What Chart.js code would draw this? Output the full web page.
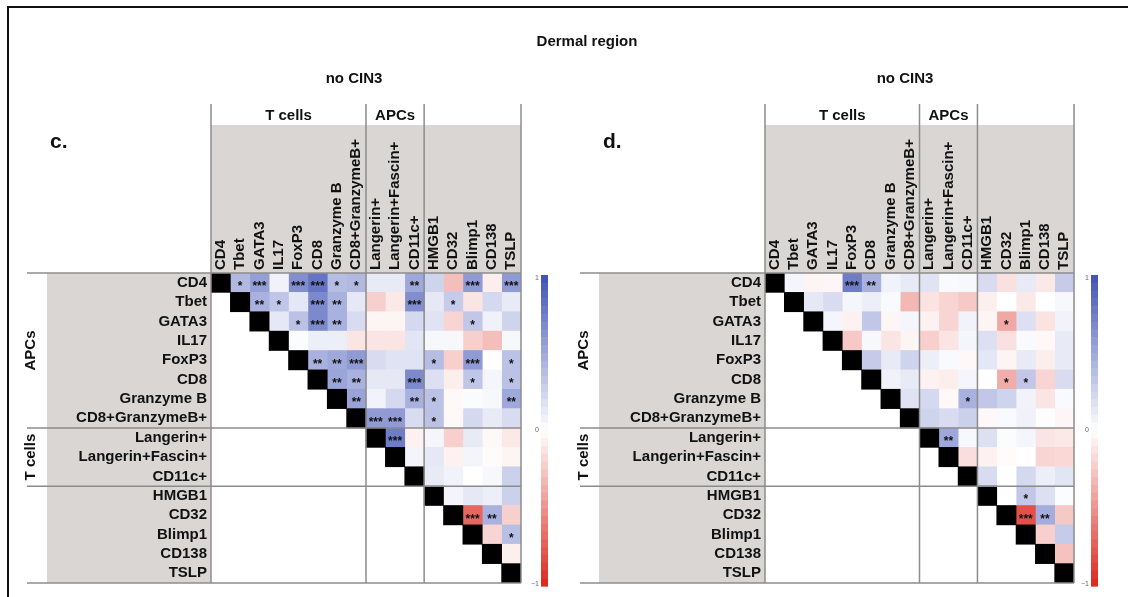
<!DOCTYPE html>
<html>
<head>
<meta charset="utf-8">
<script src="https://cdn.jsdelivr.net/npm/chart.js@4.4.1/dist/chart.umd.min.js"></script>
<style>
  body { margin: 0; background: #fff; font-family: "Liberation Sans", Arial, sans-serif; }
  #page { position: relative; width: 1128px; height: 597px; overflow: hidden; background: #fff; }
  .frame { position: absolute; left: 7px; top: 6px; width: 1300px; height: 800px;
           border-top: 2px solid #111; border-left: 2px solid #111; }
  .panel { position: absolute; top: 0; width: 564px; height: 597px; }
  .t { position: absolute; font-weight: bold; color: #111; white-space: nowrap;
       transform: translate(-50%, -50%); z-index: 2; }
  .tag { position: absolute; font-weight: bold; color: #111; font-size: 21px; z-index: 2; }
</style>
</head>
<body>
<div id="page">
  <div class="frame"></div>
  <div class="panel" style="left:0"><canvas id="chartC" width="564" height="597"></canvas></div>
  <div class="panel" style="left:554px"><canvas id="chartD" width="564" height="597"></canvas></div>
  <div class="t" style="left:587px;top:40px;font-size:15px">Dermal region</div>
  <div class="t" style="left:354px;top:77px;font-size:15px">no CIN3</div>
  <div class="t" style="left:905px;top:77px;font-size:15px">no CIN3</div>
  <div class="tag" style="left:50px;top:129px">c.</div>
  <div class="tag" style="left:603px;top:129px">d.</div>
</div>
<script>
const markers = ['CD4', 'Tbet', 'GATA3', 'IL17', 'FoxP3', 'CD8', 'Granzyme B', 'CD8+GranzymeB+',
  'Langerin+', 'Langerin+Fascin+', 'CD11c+', 'HMGB1', 'CD32', 'Blimp1', 'CD138', 'TSLP'];
const groupEdges = [0, 8, 11, 16];
const colGroups = ['T cells', 'APCs', ''];
const rowGroups = ['APCs', 'T cells', ''];

// upper triangle only: row i holds the correlations with columns i+1 .. 15
const corrC = [
  [0.40, 0.55, 0.08, 0.65, 0.80, 0.38, 0.40, 0.12, 0.12, 0.50, 0.25, -0.30, 0.58, -0.08, 0.58],
  [0.45, 0.33, 0.14, 0.68, 0.45, 0.13, -0.22, -0.10, 0.65, 0.13, 0.30, -0.12, 0.22, 0.12],
  [0.13, 0.35, 0.68, 0.45, 0.20, -0.05, -0.05, 0.22, 0.16, -0.20, 0.32, 0.08, 0.25],
  [0.02, 0.10, 0.10, -0.12, -0.12, -0.12, 0.15, 0.04, 0.04, -0.22, -0.30, 0.04],
  [0.45, 0.50, 0.58, 0.20, 0.16, 0.16, 0.38, -0.22, 0.58, 0.00, 0.35],
  [0.52, 0.45, 0.13, 0.13, 0.68, 0.18, -0.08, 0.33, 0.05, 0.35],
  [0.53, 0.07, 0.22, 0.45, 0.35, -0.03, 0.02, 0.04, 0.50],
  [0.58, 0.58, 0.20, 0.35, -0.03, 0.22, 0.12, 0.20],
  [0.75, -0.06, 0.05, -0.22, 0.12, -0.03, -0.10],
  [0.06, 0.13, -0.06, 0.06, -0.02, -0.05],
  [0.12, 0.07, 0.00, 0.04, 0.27],
  [0.06, 0.13, 0.10, 0.27],
  [-0.70, 0.45, -0.22],
  [-0.20, 0.37],
  [-0.07],
  []
];
// number of stars per cell, same layout as corrC
const sigC = [
  [1, 3, 0, 3, 3, 1, 1, 0, 0, 2, 0, 0, 3, 0, 3],
  [2, 1, 0, 3, 2, 0, 0, 0, 3, 0, 1, 0, 0, 0],
  [0, 1, 3, 2, 0, 0, 0, 0, 0, 0, 1, 0, 0],
  [0, 0, 0, 0, 0, 0, 0, 0, 0, 0, 0, 0],
  [2, 2, 3, 0, 0, 0, 1, 0, 3, 0, 1],
  [2, 2, 0, 0, 3, 0, 0, 1, 0, 1],
  [2, 0, 0, 2, 1, 0, 0, 0, 2],
  [3, 3, 0, 1, 0, 0, 0, 0],
  [3, 0, 0, 0, 0, 0, 0],
  [0, 0, 0, 0, 0, 0],
  [0, 0, 0, 0, 0],
  [0, 0, 0, 0],
  [3, 2, 0],
  [0, 1],
  [0],
  []
];

const corrD = [
  [0.05, -0.05, -0.04, 0.75, 0.45, 0.07, 0.12, 0.16, 0.03, 0.04, 0.20, -0.14, 0.12, -0.10, 0.30],
  [0.13, 0.20, 0.05, 0.10, 0.03, -0.33, -0.13, -0.20, -0.25, -0.07, 0.00, -0.10, 0.00, 0.04],
  [0.05, -0.06, 0.32, -0.04, 0.05, -0.06, -0.20, 0.07, -0.05, -0.40, 0.18, -0.13, 0.07],
  [-0.25, 0.04, -0.12, -0.05, -0.22, -0.12, 0.05, 0.18, -0.14, 0.03, -0.03, 0.12],
  [0.30, 0.12, 0.25, 0.10, 0.03, -0.03, 0.14, -0.05, 0.12, -0.08, 0.12],
  [0.08, 0.12, -0.06, -0.08, 0.05, 0.00, -0.38, 0.32, -0.20, 0.20],
  [0.16, 0.22, -0.03, 0.45, 0.32, 0.25, 0.07, -0.12, 0.03],
  [0.25, 0.20, 0.27, -0.03, 0.03, 0.08, 0.01, -0.04],
  [0.50, 0.04, 0.18, 0.02, 0.05, -0.12, -0.10],
  [-0.15, -0.06, -0.02, 0.00, -0.20, -0.18],
  [0.20, 0.00, 0.22, 0.10, 0.15],
  [0.00, 0.32, 0.18, 0.02],
  [-0.80, 0.47, -0.25],
  [-0.22, 0.30],
  [-0.28],
  []
];
const sigD = [
  [0, 0, 0, 3, 2, 0, 0, 0, 0, 0, 0, 0, 0, 0, 0],
  [0, 0, 0, 0, 0, 0, 0, 0, 0, 0, 0, 0, 0, 0],
  [0, 0, 0, 0, 0, 0, 0, 0, 0, 1, 0, 0, 0],
  [0, 0, 0, 0, 0, 0, 0, 0, 0, 0, 0, 0],
  [0, 0, 0, 0, 0, 0, 0, 0, 0, 0, 0],
  [0, 0, 0, 0, 0, 0, 1, 1, 0, 0],
  [0, 0, 0, 1, 0, 0, 0, 0, 0],
  [0, 0, 0, 0, 0, 0, 0, 0],
  [2, 0, 0, 0, 0, 0, 0],
  [0, 0, 0, 0, 0, 0],
  [0, 0, 0, 0, 0],
  [0, 1, 0, 0],
  [3, 2, 0],
  [0, 0],
  [0],
  []
];

const blueEnd = [63, 81, 181];
const redEnd = [219, 38, 28];

function colorFor(v) {
  const end = v >= 0 ? blueEnd : redEnd;
  const a = Math.min(1, Math.abs(v));
  const c = end.map(e => Math.round(255 + (e - 255) * a));
  return `rgb(${c[0]},${c[1]},${c[2]})`;
}

const cell = (tri, i, j) => tri[i][j - i - 1];

const decor = {
  id: 'decor',
  beforeDraw(chart, args, o) {
    const { ctx } = chart;
    const xs = chart.scales.x, ys = chart.scales.y;
    ctx.save();
    ctx.fillStyle = '#d9d6d4';
    ctx.fillRect(xs.left, o.headTop, xs.right - xs.left, ys.top - o.headTop);
    ctx.fillRect(o.labelLeft, ys.top, xs.left - o.labelLeft, ys.bottom - ys.top);
    ctx.restore();
  },
  afterDatasetsDraw(chart, args, o) {
    const { ctx } = chart;
    const xs = chart.scales.x, ys = chart.scales.y;
    ctx.save();
    ctx.fillStyle = '#111';
    ctx.font = 'bold 12px "Liberation Sans", Arial, sans-serif';
    ctx.textAlign = 'center';
    ctx.textBaseline = 'middle';
    o.sig.forEach((row, i) => {
      row.forEach((n, k) => {
        if (!n) return;
        const j = i + 1 + k;
        ctx.fillText('*'.repeat(n), xs.getPixelForValue(j + 0.5), ys.getPixelForValue(i) + 4);
      });
    });
    ctx.restore();
  },
  afterDraw(chart, args, o) {
    const { ctx } = chart;
    const xs = chart.scales.x, ys = chart.scales.y;
    const rowEdge = k => ys.getPixelForValue(k - 0.5);
    ctx.save();
    ctx.strokeStyle = '#8c8c8c';
    ctx.lineWidth = 1.5;
    groupEdges.forEach(k => {
      const x = xs.getPixelForValue(k);
      ctx.beginPath(); ctx.moveTo(x, o.lineTop); ctx.lineTo(x, ys.bottom); ctx.stroke();
      const y = rowEdge(k);
      ctx.beginPath(); ctx.moveTo(o.lineLeft, y); ctx.lineTo(xs.right, y); ctx.stroke();
    });
    // group headers
    ctx.fillStyle = '#111';
    ctx.font = 'bold 15px "Liberation Sans", Arial, sans-serif';
    ctx.textAlign = 'center';
    ctx.textBaseline = 'middle';
    for (let g = 0; g < colGroups.length; g++) {
      const a = groupEdges[g], b = groupEdges[g + 1];
      if (colGroups[g]) ctx.fillText(colGroups[g], xs.getPixelForValue((a + b) / 2), o.headTextY);
      if (rowGroups[g]) {
        ctx.save();
        ctx.translate(o.rowGroupX, (rowEdge(a) + rowEdge(b)) / 2);
        ctx.rotate(-Math.PI / 2);
        ctx.fillText(rowGroups[g], 0, 0);
        ctx.restore();
      }
    }
    // colour key
    const bx = xs.right + o.barGap, bw = 7;
    const top = ys.top + 2, bot = ys.bottom + 3;
    const steps = 40, h = (bot - top) / steps;
    for (let s = 0; s < steps; s++) {
      const v = 1 - (s + 0.5) * 2 / steps;
      ctx.fillStyle = colorFor(v);
      ctx.fillRect(bx, top + s * h, bw, h + 0.6);
    }
    ctx.fillStyle = '#666';
    ctx.font = '7px "Liberation Sans", Arial, sans-serif';
    ctx.textAlign = 'right';
    ctx.fillText('1', bx - 2, top + 3);
    ctx.fillText('0', bx - 2, (top + bot) / 2);
    ctx.fillText('\u22121', bx - 2, bot - 2);
    ctx.restore();
  }
};

function makeChart(id, tri, sig, g) {
  const datasets = markers.map((m, j) => ({
    label: m,
    data: markers.map((r, i) => (j >= i ? [j, j + 1] : null)),
    backgroundColor: markers.map((r, i) => (j === i ? '#000' : j > i ? colorFor(cell(tri, i, j)) : 'rgba(0,0,0,0)')),
    borderWidth: 0,
    grouped: false,
    barPercentage: 1,
    categoryPercentage: 1
  }));
  const font = { family: '"Liberation Sans", Arial, sans-serif', size: 15, weight: 'bold' };
  return new Chart(document.getElementById(id), {
    type: 'bar',
    data: { labels: markers, datasets },
    options: {
      indexAxis: 'y',
      responsive: false,
      animation: false,
      layout: { padding: { left: 0, top: 0, right: 564 - g.gridRight, bottom: 597 - g.gridBottom } },
      plugins: {
        legend: { display: false },
        tooltip: { enabled: false },
        decor: { sig, headTop: 125, lineTop: 104, headTextY: 116, labelLeft: g.labelLeft,
                 lineLeft: g.lineLeft, rowGroupX: g.rowGroupX, barGap: g.barGap }
      },
      scales: {
        x: {
          type: 'linear', position: 'top', min: 0, max: 16,
          grid: { display: false, drawTicks: false }, border: { display: false },
          afterBuildTicks: s => { s.ticks = markers.map((m, i) => ({ value: i + 0.5 })); },
          afterFit: s => { s.height = g.gridTop; },
          ticks: { autoSkip: false, minRotation: 90, maxRotation: 90, padding: 3, labelOffset: 18,
                   color: '#111', font, callback: (v, i) => markers[i] }
        },
        y: {
          type: 'category', offset: true,
          grid: { display: false, drawTicks: false }, border: { display: false },
          afterFit: s => { s.width = g.gridLeft; },
          ticks: { autoSkip: false, padding: 4, color: '#111', font }
        }
      }
    },
    plugins: [decor]
  });
}

makeChart('chartC', corrC, sigC, { gridLeft: 211, gridRight: 521, gridTop: 273, gridBottom: 583,
  labelLeft: 47, lineLeft: 27, rowGroupX: 31, barGap: 20 });
makeChart('chartD', corrD, sigD, { gridLeft: 211, gridRight: 520, gridTop: 273, gridBottom: 583,
  labelLeft: 45, lineLeft: 26, rowGroupX: 30, barGap: 17 });
</script>
</body>
</html>
